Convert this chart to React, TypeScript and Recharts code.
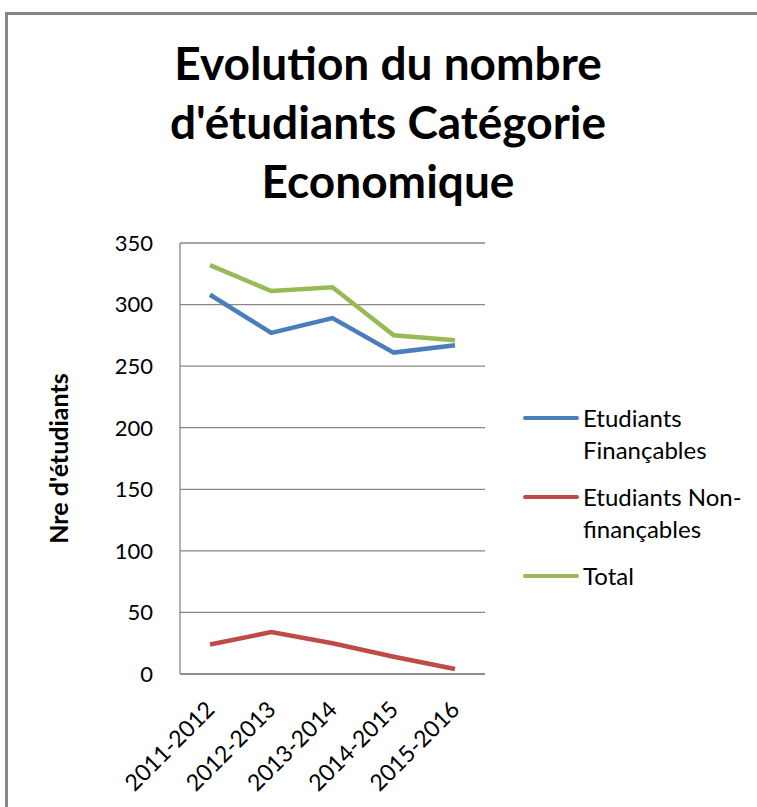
import React from 'react';
import { LineChart, Line, XAxis, YAxis, CartesianGrid, Legend } from 'recharts';

const years = ['2011-2012', '2012-2013', '2013-2014', '2014-2015', '2015-2016'];
const financables = [308, 277, 289, 261, 267];
const nonFinancables = [24, 34, 25, 14, 4];
const totals = [332, 311, 314, 275, 271];
const yTicks = [0, 50, 100, 150, 200, 250, 300, 350];
const titleLines = ['Evolution du nombre', "d'étudiants Catégorie", 'Economique'];
const yLabel = "Nre d'étudiants";

const data = years.map((y, i) => ({
  year: y,
  fin: financables[i],
  nonfin: nonFinancables[i],
  total: totals[i],
}));

const FONT = 'Lato, "Open Sans", sans-serif';

const XTick = (props: any) => {
  const { x, y, payload } = props;
  const ax = x + 6;
  const ay = y + 29;
  return (
    <text
      x={ax}
      y={ay}
      textAnchor="end"
      transform={`rotate(-45, ${ax}, ${ay})`}
      fontFamily={FONT}
      fontSize={23}
      fill="#000"
    >
      {payload.value}
    </text>
  );
};

const YLabel = (props: any) => {
  const { viewBox } = props;
  const cx = viewBox.x + 58;
  const cy = viewBox.y + viewBox.height / 2;
  return (
    <text
      x={cx}
      y={cy}
      textAnchor="middle"
      dominantBaseline="central"
      transform={`rotate(-90, ${cx}, ${cy})`}
      fontFamily={FONT}
      fontWeight="bold"
      fontSize={25}
      fill="#000"
    >
      {yLabel}
    </text>
  );
};

const LegendContent = (props: any) => {
  const { payload } = props;
  return (
    <div style={{ fontFamily: FONT, fontSize: 24, color: '#000' }}>
      {(payload || []).map((p: any, i: number) => (
        <div key={i} style={{ display: 'flex', alignItems: 'flex-start', marginBottom: 15 }}>
          <div style={{ width: 56, height: 32, position: 'relative', flex: '0 0 56px' }}>
            <div
              style={{
                position: 'absolute',
                left: 0,
                top: 14,
                width: 56,
                height: 4,
                borderRadius: 2,
                background: p.color,
              }}
            />
          </div>
          <div style={{ width: 170, lineHeight: '32px', paddingLeft: 4 }}>{p.value}</div>
        </div>
      ))}
    </div>
  );
};

export default function App() {
  return (
    <div
      style={{
        position: 'absolute',
        left: 0,
        top: 0,
        width: 757,
        height: 807,
        overflow: 'hidden',
        background: '#fff',
      }}
    >
      <div
        style={{
          position: 'absolute',
          left: 5,
          top: 12,
          width: 800,
          height: 850,
          border: '3px solid #878787',
        }}
      />
      <div
        style={{
          position: 'absolute',
          left: 88,
          top: 33,
          width: 600,
          textAlign: 'center',
          fontFamily: FONT,
          fontWeight: 'bold',
          fontSize: 46,
          lineHeight: '59px',
          color: '#000',
        }}
      >
        {titleLines.map((t, i) => (
          <div key={i}>{t}</div>
        ))}
      </div>
      <div style={{ position: 'absolute', left: 0, top: 0 }}>
        <LineChart
          width={757}
          height={807}
          data={data}
          margin={{ top: 243, right: 272, bottom: 0, left: 0 }}
        >
          <CartesianGrid vertical={false} stroke="#878787" strokeWidth={1.3} />
          <XAxis
            dataKey="year"
            height={133}
            tickLine={false}
            axisLine={{ stroke: '#878787', strokeWidth: 1.3 }}
            tick={<XTick />}
            interval={0}
            padding={{ left: 30, right: 30 }}
          />
          <YAxis
            width={180}
            domain={[0, 350]}
            ticks={yTicks}
            tickLine={false}
            tickSize={0}
            tickMargin={27}
            axisLine={{ stroke: '#878787', strokeWidth: 1.3 }}
            tick={{ fontFamily: FONT, fontSize: 22, fill: '#000' }}
            label={<YLabel />}
            interval={0}
          />
          <Legend
            layout="vertical"
            align="center"
            verticalAlign="middle"
            content={<LegendContent />}
            wrapperStyle={{ position: 'absolute', left: 523, top: 402, width: 240 }}
          />
          <Line
            type="linear"
            dataKey="fin"
            name="Etudiants Finançables"
            stroke="#4A7EBB"
            strokeWidth={4.5}
            dot={false}
            isAnimationActive={false}
          />
          <Line
            type="linear"
            dataKey="nonfin"
            name="Etudiants Non-finançables"
            stroke="#BE4B48"
            strokeWidth={4.5}
            dot={false}
            isAnimationActive={false}
          />
          <Line
            type="linear"
            dataKey="total"
            name="Total"
            stroke="#98B954"
            strokeWidth={4.5}
            dot={false}
            isAnimationActive={false}
          />
        </LineChart>
      </div>
    </div>
  );
}
